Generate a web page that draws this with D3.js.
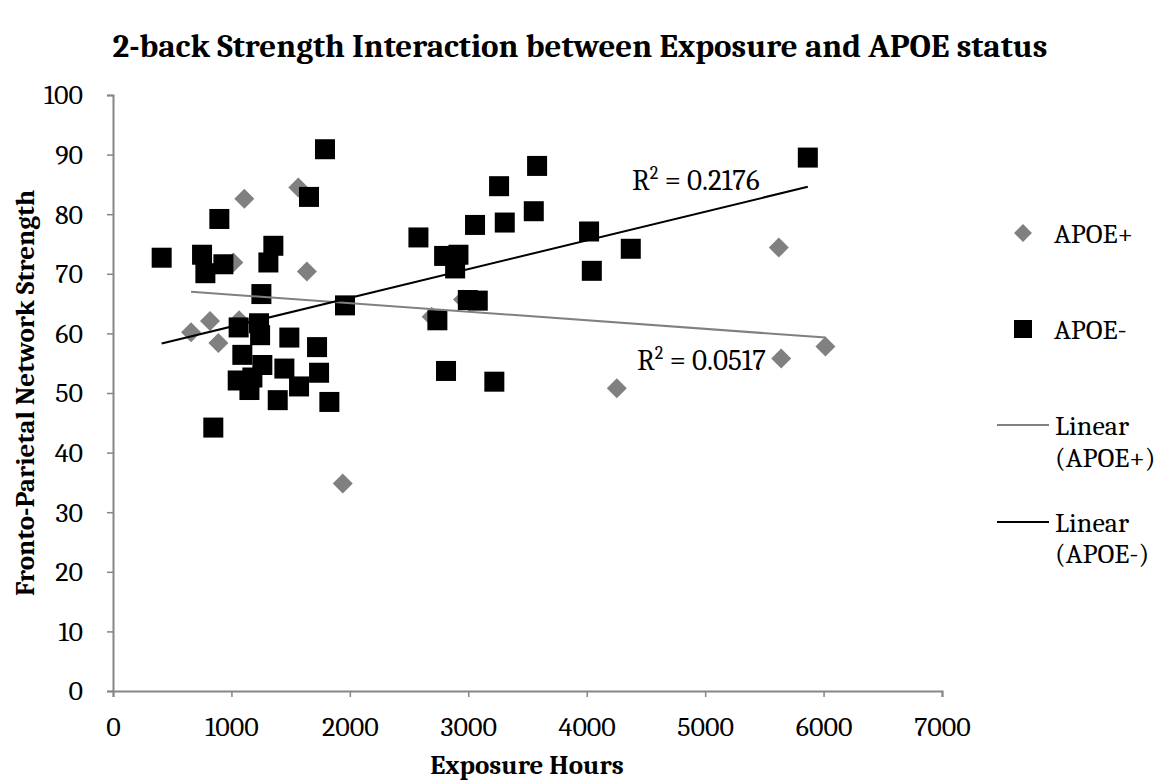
<!DOCTYPE html>
<html>
<head>
<meta charset="utf-8">
<script src="https://cdn.jsdelivr.net/npm/d3@7"></script>
<style>
  body { margin: 0; background: #fff; }
  svg text { font-family: Cambria, "Liberation Serif", serif; fill: #000; }
</style>
</head>
<body>
<svg class="chart"></svg>
<script>
var width = 1159,
    height = 783;

// APOE+ (gray diamonds)
var plusHours = [659, 819, 890, 1016, 1065, 1109, 1565, 1637, 1940, 2691, 2956, 4254, 5622, 5642, 6016];
var plusStrength = [60.2, 62.1, 58.4, 71.9, 62.2, 82.6, 84.5, 70.4, 34.8, 62.8, 65.7, 50.8, 74.4, 55.8, 57.8];

// APOE- (black squares)
var minusHours = [411, 752, 780, 847, 898, 932, 1053, 1061, 1092, 1152, 1177, 1233, 1242, 1253, 1261,
    1312, 1354, 1391, 1447, 1489, 1571, 1655, 1723, 1740, 1790, 1827, 1959, 2579, 2739, 2796,
    2812, 2889, 2917, 2996, 3057, 3080, 3220, 3260, 3308, 3553, 3581, 4020, 4043, 4372, 5867];
var minusStrength = [72.7, 73.2, 70.1, 44.2, 79.2, 71.6, 52.1, 61.0, 56.4, 50.5, 52.6, 61.7, 59.7, 66.6, 54.7,
    71.9, 74.7, 48.8, 54.1, 59.3, 51.1, 82.9, 57.7, 53.4, 90.9, 48.5, 64.7, 76.1, 62.2, 73.0,
    53.7, 70.9, 73.2, 65.6, 78.2, 65.5, 51.9, 84.7, 78.6, 80.5, 88.1, 77.1, 70.5, 74.2, 89.5];

// trend lines as drawn (end points)
var plusTrendHours = [659, 6016];
var plusTrendStrength = [67.0, 59.3];
var minusTrendHours = [411, 5867];
var minusTrendStrength = [58.3, 84.6];

var xTicks = [0, 1000, 2000, 3000, 4000, 5000, 6000, 7000];
var yTicks = [0, 10, 20, 30, 40, 50, 60, 70, 80, 90, 100];

var x = d3.scaleLinear().domain([0, 7000]).range([113, 942]);
var y = d3.scaleLinear().domain([0, 100]).range([691, 95]);

var chart = d3.select(".chart")
    .attr("width", width)
    .attr("height", height);

function zip(a, b) { return a.map(function(v, i) { return [v, b[i]]; }); }

// axes
var xAxis = chart.append("g")
    .attr("transform", "translate(0," + y(0) + ")")
    .call(d3.axisBottom(x).tickValues(xTicks).tickSize(6).tickPadding(19).tickFormat(d3.format("d")));
var yAxis = chart.append("g")
    .attr("transform", "translate(" + x(0) + ",0)")
    .call(d3.axisLeft(y).tickValues(yTicks).tickSize(6).tickPadding(24).tickFormat(d3.format("d")));

[xAxis, yAxis].forEach(function(g) {
    g.select(".domain").attr("stroke", "#868686").attr("stroke-width", 2);
    g.selectAll(".tick line").attr("stroke", "#868686").attr("stroke-width", 1.5);
    g.selectAll(".tick text").style("font-size", "28px").attr("fill", "#000");
});

var line = d3.line()
    .x(function(d) { return x(d[0]); })
    .y(function(d) { return y(d[1]); });

// points
chart.append("g").selectAll("path")
    .data(zip(plusHours, plusStrength))
  .enter().append("path")
    .attr("d", d3.symbol().type(d3.symbolSquare).size(200))
    .attr("transform", function(d) { return "translate(" + x(d[0]) + "," + y(d[1]) + ") rotate(45)"; })
    .attr("fill", "#808080");

chart.append("g").selectAll("rect")
    .data(zip(minusHours, minusStrength))
  .enter().append("rect")
    .attr("x", function(d) { return x(d[0]) - 10; })
    .attr("y", function(d) { return y(d[1]) - 10; })
    .attr("width", 20)
    .attr("height", 20)
    .attr("fill", "#000");

// trend lines
chart.append("path")
    .datum(zip(plusTrendHours, plusTrendStrength))
    .attr("d", line)
    .attr("fill", "none")
    .attr("stroke", "#808080")
    .attr("stroke-width", 2);

chart.append("path")
    .datum(zip(minusTrendHours, minusTrendStrength))
    .attr("d", line)
    .attr("fill", "none")
    .attr("stroke", "#000")
    .attr("stroke-width", 2);

// R squared labels
function r2(tx, ty, val) {
    var t = chart.append("text")
        .attr("x", tx).attr("y", ty)
        .style("font-size", "29px");
    t.append("tspan").text("R");
    t.append("tspan").attr("dy", -11).style("font-size", "18px").text("2");
    t.append("tspan").attr("dy", 11).text(" = " + val);
}
r2(632, 190, "0.2176");
r2(637, 370, "0.0517");

// titles
chart.append("text")
    .attr("x", 580).attr("y", 57)
    .attr("text-anchor", "middle")
    .style("font-size", "33px")
    .style("font-weight", "bold")
    .text("2-back Strength Interaction between Exposure and APOE status");

chart.append("text")
    .attr("x", 527).attr("y", 774)
    .attr("text-anchor", "middle")
    .style("font-size", "27px")
    .style("font-weight", "bold")
    .text("Exposure Hours");

chart.append("text")
    .attr("transform", "translate(34," + y(50) + ") rotate(-90)")
    .attr("text-anchor", "middle")
    .style("font-size", "27px")
    .style("font-weight", "bold")
    .text("Fronto-Parietal Network Strength");

// legend
var legend = chart.append("g");
legend.append("path")
    .attr("d", d3.symbol().type(d3.symbolSquare).size(160))
    .attr("transform", "translate(1023,233) rotate(45)")
    .attr("fill", "#808080");
legend.append("text").attr("x", 1054).attr("y", 243).style("font-size", "28px").text("APOE+");
legend.append("rect").attr("x", 1014).attr("y", 320).attr("width", 18).attr("height", 18).attr("fill", "#000");
legend.append("text").attr("x", 1054).attr("y", 339).style("font-size", "28px").text("APOE-");

legend.append("line").attr("x1", 997).attr("x2", 1049).attr("y1", 425).attr("y2", 425)
    .attr("stroke", "#808080").attr("stroke-width", 2);
legend.append("text").attr("x", 1055).attr("y", 435).style("font-size", "28px").text("Linear");
legend.append("text").attr("x", 1055).attr("y", 467).style("font-size", "28px").text("(APOE+)");

legend.append("line").attr("x1", 997).attr("x2", 1049).attr("y1", 522).attr("y2", 522)
    .attr("stroke", "#000").attr("stroke-width", 2);
legend.append("text").attr("x", 1055).attr("y", 532).style("font-size", "28px").text("Linear");
legend.append("text").attr("x", 1055).attr("y", 563).style("font-size", "28px").text("(APOE-)");
</script>
</body>
</html>
